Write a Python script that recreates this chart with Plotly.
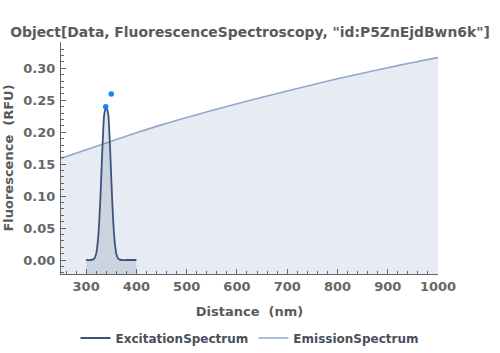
import plotly.graph_objects as go

# ---- data ----
emission_nm = [250, 300, 350, 400, 450, 500, 550, 600, 650, 700, 750, 800, 850, 900, 950, 1000]
emission_rfu = [0.159, 0.1725, 0.1858, 0.199, 0.2115, 0.2230, 0.2340, 0.2445, 0.2547, 0.2645,
                0.2742, 0.2836, 0.2924, 0.3010, 0.3092, 0.3168]

excitation_nm = [300, 310, 314, 316, 318, 320, 322, 324, 326, 328, 330, 332, 334, 336, 338, 340,
                 342, 344, 346, 348, 350, 352, 354, 356, 358, 360, 362, 364, 366, 370, 380, 390, 400]
excitation_rfu = [0.000, 0.000, 0.001, 0.002, 0.005, 0.010, 0.020, 0.036, 0.059, 0.091, 0.128,
                  0.168, 0.203, 0.228, 0.235, 0.237, 0.235, 0.228, 0.203, 0.168, 0.128, 0.091,
                  0.059, 0.036, 0.020, 0.010, 0.005, 0.002, 0.001, 0.000, 0.000, 0.000, 0.000]

peak_nm = [339, 350]
peak_rfu = [0.240, 0.260]

x_range = [250, 1000]
y_range = [-0.0219, 0.3412]
x_ticks = [300, 400, 500, 600, 700, 800, 900, 1000]
y_ticks = [0, 0.05, 0.10, 0.15, 0.20, 0.25, 0.30]

title_text = 'Object[Data, FluorescenceSpectroscopy, "id:P5ZnEjdBwn6k"]'

FONT = "DejaVu Sans"
EXC_COLOR = "#3d5479"
EMI_COLOR = "#91a8cf"

fig = go.Figure()


def add_filled(xs, ys, name, color, fillcolor, width, rank):
    # baseline at the bottom of the plot range, fill band, then the line itself
    fig.add_trace(go.Scatter(x=[xs[0], xs[-1]], y=[y_range[0]] * 2, mode="lines",
                             line=dict(width=0), showlegend=False, hoverinfo="skip"))
    fig.add_trace(go.Scatter(x=xs, y=ys, mode="lines", line=dict(width=0, shape="spline"),
                             fill="tonexty", fillcolor=fillcolor, showlegend=False,
                             hoverinfo="skip"))
    fig.add_trace(go.Scatter(x=xs, y=ys, mode="lines", name="<b>%s</b>" % name,
                             line=dict(color=color, width=width, shape="spline"),
                             legendrank=rank))


add_filled(emission_nm, emission_rfu, "EmissionSpectrum", EMI_COLOR,
           "rgba(145,168,207,0.22)", 1.6, 2)
add_filled(excitation_nm, excitation_rfu, "ExcitationSpectrum", EXC_COLOR,
           "rgba(61,84,121,0.16)", 1.8, 1)

fig.add_trace(go.Scatter(x=peak_nm, y=peak_rfu, mode="markers", showlegend=False,
                         marker=dict(color="#1a80ff", size=5.5)))

axis_common = dict(
    showgrid=False, zeroline=False, showline=True, linecolor="#666", linewidth=1,
    ticks="inside", ticklen=5, tickcolor="#666", tickwidth=1,
    tickfont=dict(family=FONT, size=13, color="#666"),
    mirror=False, automargin=False,
)

fig.update_layout(
    width=500, height=353,
    margin=dict(l=61, r=62, t=42, b=79),
    paper_bgcolor="white", plot_bgcolor="white",
    font=dict(family=FONT, color="#555"),
    title=dict(text="<b>" + title_text + "</b>", x=0.5, xanchor="center",
               y=1 - 32 / 353, yanchor="middle", yref="container",
               font=dict(family=FONT, size=13.9, color="#5a5a5a")),
    xaxis=dict(range=x_range, tickmode="array", tickvals=x_ticks,
               ticktext=["<b>%d</b>" % v for v in x_ticks],
               minor=dict(ticks="inside", ticklen=3, dtick=20, tick0=0, tickcolor="#666"),
               title=dict(text="<b>Distance  (nm)</b>", standoff=14,
                          font=dict(family=FONT, size=13, color="#5a5a5a")),
               **axis_common),
    yaxis=dict(range=y_range, tickmode="array", tickvals=y_ticks,
               ticktext=["<b>%.2f</b>" % v for v in y_ticks],
               minor=dict(ticks="inside", ticklen=3, dtick=0.01, tick0=0, tickcolor="#666"),
               ticklabelstandoff=2,
               title=dict(text="<b>Fluorescence  (RFU)</b>", standoff=6,
                          font=dict(family=FONT, size=13, color="#5a5a5a")),
               **axis_common),
    legend=dict(orientation="h", x=0.5, xanchor="center", xref="container",
                y=1 - 338 / 353, yanchor="middle", yref="container",
                font=dict(family=FONT, size=12, color="#4a4f5a"),
                traceorder="normal"),
    showlegend=True,
)

fig.write_html("out.html")
